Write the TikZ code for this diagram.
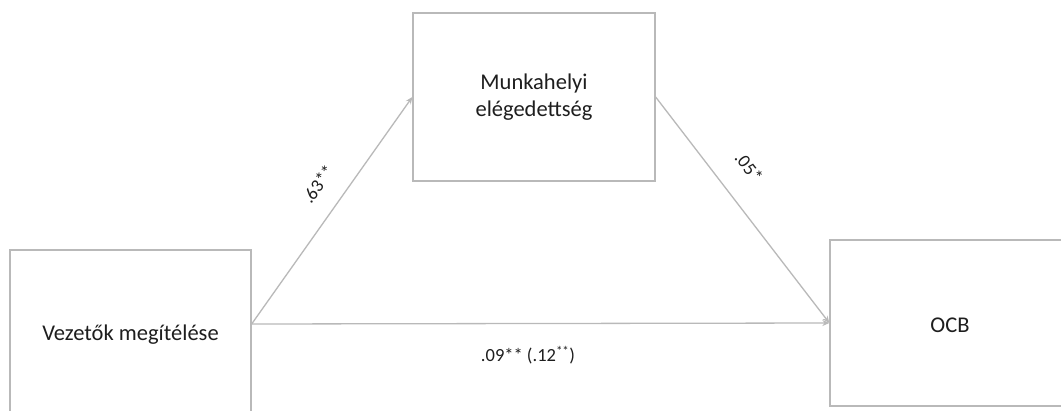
\documentclass[tikz,border=0pt]{standalone}
\usepackage{fontspec}
\setmainfont{Carlito}
\usetikzlibrary{arrows.meta,calc}
\definecolor{linegray}{RGB}{185,185,185}
\definecolor{txtgray}{RGB}{30,30,30}
\tikzset{
  boxnode/.style={draw=linegray, line width=1.3pt, fill=white, inner sep=0pt, text=txtgray, font=\fontsize{22.5}{27}\selectfont, align=center},
  boxtext/.style={text=txtgray, font=\fontsize{22.5}{27}\selectfont, inner sep=0pt},
  conn/.style={draw=linegray, line width=1.3pt, -{Stealth[length=7pt,width=6pt]}},
  lbl/.style={text=txtgray, font=\fontsize{18.5}{22}\selectfont, inner sep=0pt}
}
\begin{document}
\begin{tikzpicture}[x=1pt,y=-1pt]
\useasboundingbox[fill=white] (0,0) rectangle (1061,410);
\node[boxnode, minimum width=241pt, minimum height=170pt] (v) at (130.5,335) {};
\node[boxtext] (vt) at (130.5,335) {Vezetők megítélése};
\node[boxnode, minimum width=242pt, minimum height=168pt] (m) at (534,97) {Munkahelyi\\elégedettség};
\node[boxnode, minimum width=250pt, minimum height=166pt] (o) at (955,323) {};
\node[boxtext] (ot) at (950,325) {OCB};
\coordinate (vs) at ([yshift=11pt]v.east);
\draw[conn] (vs) -- (m.west);
\draw[conn] (m.east) -- (o.west);
\draw[conn] (vs) -- (o.west);
\node[lbl, rotate=54.4] (l1) at (318,184) {.63**};
\node[lbl, rotate=-52] (l2) at (749,167) {.05*};
\node[lbl] (l3) at (528,355) {.09** (.12\textsuperscript{**})};
\end{tikzpicture}
\end{document}
